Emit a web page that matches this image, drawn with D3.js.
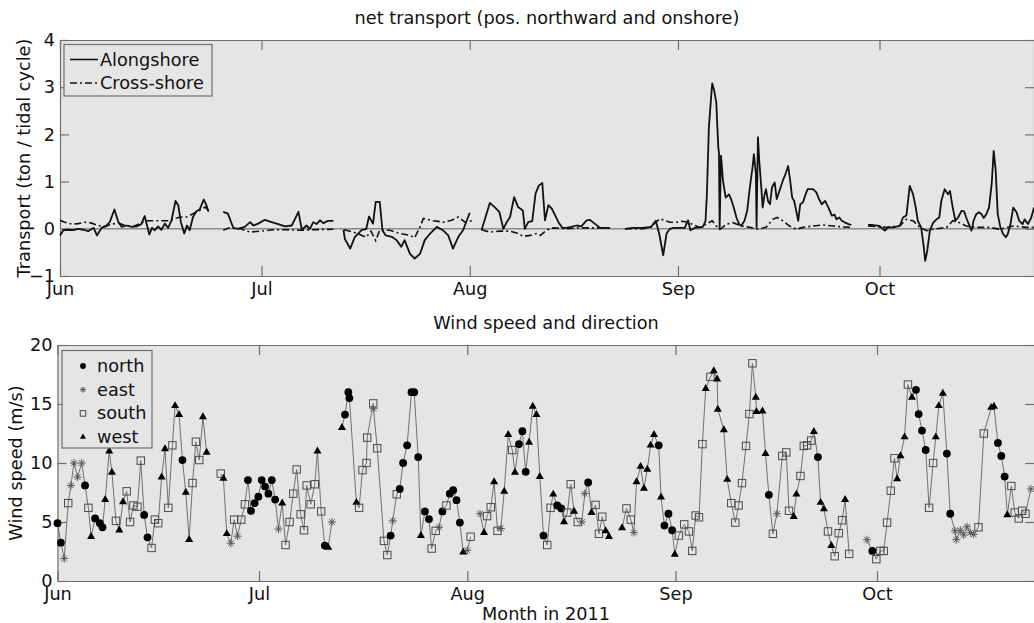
<!DOCTYPE html>
<html><head><meta charset="utf-8">
<script src="https://cdn.jsdelivr.net/npm/d3@7"></script>
<style>body{margin:0;background:#fff}svg{display:block}</style>
</head><body>
<script>
// ---------- DATA (days since 1 Jun 2011; null = gap) ----------
const monthTicks = ["Jun","Jul","Aug","Sep","Oct"];
const transportTicks = [-1,0,1,2,3,4];
const windTicks = [0,5,10,15,20];

const alongDays = [0,0.5,1.2,2,2.7,3.5,4.2,5,5.5,6.2,6.9,7.4,8.1,8.7,9.2,9.9,10.7,11.4,12.1,12.6,13.3,13.7,14.1,14.6,15.1,15.6,16.1,16.6,17.2,17.6,18,18.5,18.9,19.3,19.8,20.3,20.8,21.4,21.8,22.1,
 23,
 24.3,25,25.8,26.5,27.5,28.3,28.8,29.5,30.5,31.5,32.5,33.5,34.5,35.5,36,36.7,37.2,37.7,38.2,38.7,39.2,39.9,40.7,
 41.5,
 42.2,42.4,43.2,43.9,44.9,45.6,46,46.6,47,47.6,48,48.5,49.4,50.1,50.8,51.3,52.1,52.8,53.6,54.3,55.1,56.1,57,57.8,58.5,59.3,60,61,
 62,
 62.75,64,64.7,65.4,66,66.5,67,67.6,68.2,68.9,69.2,69.7,70.3,70.8,71.3,71.8,72.2,72.7,73.2,73.7,74.2,74.8,75.4,76.1,76.9,77.6,78.4,78.9,79.6,80.4,81.4,81.9,
 83,
 84.1,85.3,86.8,88,88.7,89.2,89.8,90.3,90.8,91.3,92.3,93,93.5,93.85,94.5,95.2,95.7,96.1,96.3,96.6,97,97.1,97.4,97.7,98,98.1,98.2,98.4,98.7,99.1,99.6,99.9,100.3,100.7,101.1,101.4,101.9,102.3,102.7,103.1,103.3,103.6,103.7,103.9,104.1,104.4,104.6,104.9,105.1,105.4,105.7,106,106.4,106.7,107.1,107.6,108,108.4,108.7,109,109.3,109.6,109.9,110.2,110.6,111,111.3,112.1,112.6,113,113.4,113.9,114.4,114.9,115.3,115.6,116,116.4,116.9,117.4,117.8,
 119,
 120.3,121,122,122.8,123.3,124,125,125.5,126,126.5,127,127.4,127.7,128.2,128.6,128.8,129.1,129.5,130,130.5,130.9,131.2,131.7,132.2,132.5,132.9,133.3,133.7,134.2,134.6,134.9,135.3,135.7,136,136.4,136.8,137.2,137.5,137.9,138.3,138.7,139,139.3,139.6,140,140.4,140.8,141.1,141.5,141.9,142.4,142.8,143.3,143.6,144.1,144.6,145];
const alongVals = [-0.14,-0.03,-0.02,-0.03,0,-0.02,-0.05,0.02,-0.14,0.02,0.07,0.14,0.41,0.14,0.04,0.07,0.04,0.05,0.1,0.27,-0.12,0.02,-0.03,0.05,-0.02,0.11,0.02,0.18,0.59,0.5,0.14,-0.1,0.07,-0.03,0.25,0.37,0.41,0.62,0.5,0.36,
 null,
 0.36,0.32,0.02,0,0.04,0.14,0.07,0.11,0.19,0.14,0.1,0.05,0.07,0.36,-0.02,0.07,0,0.14,0.1,0.18,0.12,0.17,0.17,
 null,
 -0.02,-0.21,-0.42,-0.17,-0.03,0,0.26,0.11,0.57,0.57,-0.03,-0.14,-0.17,-0.24,-0.38,-0.24,-0.53,-0.63,-0.53,-0.24,-0.1,0.04,-0.03,-0.14,-0.42,-0.17,-0.03,0.34,
 null,
 -0.03,0.55,0.46,0.36,0,0.14,0.25,0.67,0.46,0.39,0,0.14,0.16,0.75,0.92,0.97,0.18,0.5,0.43,0.29,0.14,0.02,0.02,0.04,0.07,0.05,0.18,0.19,0.11,0.02,0.02,0.02,
 null,
 0,0.02,0.02,0.04,0.17,-0.1,-0.56,-0.1,0,0.02,0.02,0.02,0.18,-0.03,0.02,0.03,0.04,0.17,0.73,2.15,2.92,3.08,2.92,2.68,1.72,1.62,-0.01,1.55,1.02,0.66,0.73,0.63,0.45,0.24,0.1,0.06,0.17,0.38,0.88,1.3,1.58,1.16,0.03,1.94,1.44,0.88,0.45,0.73,0.84,0.59,0.52,0.88,0.98,0.63,0.8,1.02,1.16,1.33,1.02,0.66,0.59,0.38,0.17,0.52,0.56,0.73,0.84,0.84,0.77,0.63,0.52,0.59,0.45,0.28,0.3,0.2,0.24,0.17,0.13,0.1,0.08,
 null,
 0.08,0.08,0.06,-0.04,0.03,0.03,0.06,0.24,0.28,0.91,0.73,0.45,0.17,0.03,-0.4,-0.68,-0.47,-0.04,0.13,0.2,0.24,0.59,0.84,0.73,0.8,0.45,0.17,0.24,0.38,0.37,0.24,0.1,-0.04,0.17,0.31,0.35,0.31,0.23,0.31,0.45,0.95,1.65,1.23,0.31,0.03,-0.11,-0.18,-0.11,0.1,0.45,0.35,0.17,0.1,0.2,0.1,0.24,0.45];

const crossDays = [0,0.7,1.7,2.7,3.7,4.7,5.7,6.7,7.6,8.7,9.7,10.9,11.9,12.9,14.1,15.4,16.4,17.1,17.9,18.9,19.8,20.8,21.6,22.1,
 23,
 24.3,25.2,26.9,28.3,29.8,31.8,33.7,35.8,37.7,40.7,
 41.5,
 42.3,43.2,44.3,45.6,46.3,47,47.6,48.1,49.1,50.6,52.1,52.8,53.6,54.1,55.6,57.1,58.3,59.3,60.3,61.3,
 62,
 62.75,64,65.5,67,68,69,70,71,71.5,72.5,73.5,75.4,77.4,79.9,81.9,
 83,
 84.1,86.8,88,88.7,89.3,90,90.8,91.8,92.5,93.5,94.5,95.2,96.2,97.1,97.7,98.3,99.2,100.2,101.4,102.7,103.8,105.1,106.1,106.8,107.6,108.6,109.6,110.6,112.1,113.6,115.1,116.6,117.8,
 119,
 120.3,123,125,126,127,128,129,130,132,132.9,133.9,134.9,136.4,138.4,139.9,141.9,143.9,145];
const crossVals = [0.18,0.14,0.1,0.11,0.14,0.12,0.07,0.04,0.1,0.12,0.07,0.05,0.11,0.17,0.17,0.17,0.17,0.22,0.25,0.25,0.32,0.39,0.46,0.39,
 null,
 -0.03,0.02,0,-0.07,-0.05,-0.02,-0.02,-0.03,-0.02,-0.01,
 null,
 -0.02,-0.05,-0.1,-0.18,-0.05,-0.25,-0.03,-0.03,-0.03,-0.1,-0.14,-0.19,0.04,0.22,0.17,0.14,0.18,0.25,0.14,0.17,
 null,
 -0.02,-0.07,-0.05,-0.05,-0.09,-0.16,-0.14,-0.1,-0.14,-0.02,0.02,0,0.02,0.02,0.02,
 null,
 0,0,0.04,0.14,0.21,0.18,0.14,0.14,0.16,0.14,0.07,0.03,0.1,0.17,0.06,-0.01,0.1,0.13,0.06,0.03,-0.01,0.03,0.2,0.24,0.17,0.06,-0.01,0.03,0.06,0.08,0.06,0.04,0.03,
 null,
 0.06,0.03,0.06,0.2,0.17,0.03,-0.04,-0.01,0.03,0.17,0.13,0.06,0.03,0.03,-0.01,0.06,0.03,0.03];

const windDays = [0,0.5,1,1.6,2,2.45,3,3.6,4.1,4.6,5,5.6,6.3,6.7,7.1,7.7,8.1,8.7,9.2,9.75,10.3,10.8,11.3,11.9,12.4,12.9,13.4,14,14.5,15,15.5,16,16.5,17.1,17.5,18.1,18.6,19.1,19.6,20.1,20.6,21.1,21.65,22.2,
 23.2,
 24.3,24.7,25.2,25.8,26.3,26.8,27.35,27.9,28.35,28.8,29.35,29.9,30.4,30.9,31.4,31.9,32.4,32.9,33.45,33.95,34.55,35.1,35.6,36.2,36.7,37.1,37.7,38.3,38.7,39.25,39.8,40.3,40.85,
 41.6,
 42.35,42.8,43.3,43.45,44.5,44.9,45.4,46,46.1,47,47.05,47.6,48.6,49.1,49.6,49.9,50.5,50.95,51.45,52.05,52.7,53.1,53.7,54.1,54.7,55.3,55.7,56.3,56.8,57.3,57.9,58.4,58.9,59.4,59.9,60.4,61,61.5,
 62.2,
 62.9,63.5,63.95,64.5,65,65.5,66,66.5,67.1,67.7,68.1,68.7,69.2,69.7,70.2,70.75,71.3,71.8,72.35,72.9,73.4,73.8,74.4,75,75.4,75.9,76.4,76.9,77.45,78.05,78.5,79,79.5,80.1,80.6,81.1,81.6,82.1,
 83,
 84.05,84.7,85.35,85.8,86.2,86.8,87.3,87.8,88.3,88.8,89.5,89.85,90.35,90.95,91.5,91.9,92.5,93.3,94,94.5,95,95.5,96,96.5,97.2,97.7,98.2,98.3,99.2,99.7,100.3,100.9,101.4,101.9,102.5,103,103.45,103.95,104.05,104.95,105.4,105.9,106.5,107.1,107.9,108.5,108.9,109.6,110,110.6,111.1,111.6,112.2,112.6,113.2,113.6,114.1,114.7,115.2,115.7,116.3,116.8,117.25,117.85,
 119,
 120.5,121.3,121.9,122.5,123,123.5,124.05,124.6,125,125.5,126.1,126.6,127.2,127.8,128.2,128.7,129.25,129.75,130.35,130.75,131.2,131.8,132.4,132.9,133.6,133.8,134.4,134.9,135.4,135.9,136.4,137.1,137.9,139,139.4,140,140.5,141,141.4,142,142.5,143.1,143.6,144.1,144.9];
const windSpeed = [4.9,3.25,1.9,6.6,8.1,10,8.8,10,8.1,6.2,3.75,5.3,4.9,4.55,6.9,11,9.2,5.1,4.3,6.7,7.6,5,6.4,6.3,10.2,5.6,3.7,2.8,5.2,4.9,8.8,11.2,6.2,11.5,14.85,14.1,10.25,7.5,3.5,8.3,11.8,10.25,13.9,10.9,
 null,
 9.1,8.7,4,3.2,5.2,3.8,5.2,6.5,8.55,5.95,6.6,7.15,8.55,8,7.4,8.55,6.9,4.4,6.6,3.05,5,7.4,9.45,5.65,4.3,8.1,6.5,8.2,11,5.9,3,2.85,5,
 null,
 13,14.1,16,15.5,6.65,6.2,9.4,10,12.15,15.05,14.6,11.25,3.4,2.2,3.85,5.1,7.35,7.8,10,11.5,16,16,10.5,3.85,5.9,5.25,2.75,4.25,4.55,5.9,6.4,7.4,7.7,6.85,4.95,2.45,2.6,3.75,
 null,
 5.7,4.1,5.5,6.25,8.4,4.25,4.45,7.6,12.4,11.1,9.2,11.6,12.7,9.25,11.75,14.8,14.1,8.85,3.85,3.05,6.2,7.35,6.4,6.15,5,5.8,8.2,5.9,5,5,7.4,8.35,5.8,6.45,4,5.45,4.25,3.75,
 null,
 4.5,6.15,5.2,4.1,8.4,9.7,7.85,9.45,11.5,12.4,11.5,7.1,4.7,5.7,4.3,2.25,3.85,4.8,4.2,2.55,5.55,5.4,11.6,16.3,17.3,17.8,17.1,14.55,12.8,8.6,6.6,4.95,6.4,8.3,11.45,14.15,18.45,15.55,14.35,14.4,10.8,7.3,4,5.7,10.6,10.9,5.95,5.45,7.35,8.9,11.45,11.5,11.9,12.65,10.5,6.65,6.1,4.2,3,2.1,4.05,5.15,6.9,2.3,
 null,
 3.5,2.55,1.85,2.55,2.55,4.95,7.65,10.4,8.65,10.6,12.2,16.65,15.55,16.2,14.15,12.75,11.1,6.2,10,12.2,14.85,15.9,10.8,5.7,4.25,3.5,4.3,3.9,4.6,4.1,3.95,4.55,12.5,14.7,14.8,11.7,10.6,8.85,5.6,8.05,5.8,5.3,5.95,5.7,7.8];
const windDir = ["N","N","E","S","E","E","E","E","N","S","W","N","N","N","W","W","W","S","W","W","S","S","S","S","S","N","N","S","S","S","W","W","S","S","W","W","N","W","W","S","S","S","W","W",
 null,
 "S","W","W","E","S","E","S","S","N","N","N","N","N","N","N","N","N","E","W","S","S","S","S","S","S","S","S","S","W","S","N","W","E",
 null,
 "W","N","N","N","W","S","S","S","S","S","E","S","S","S","N","E","S","N","N","N","N","N","N","W","N","N","S","S","E","N","S","N","N","N","N","W","E","S",
 null,
 "E","W","S","S","W","S","E","W","W","S","W","N","N","N","W","W","W","W","N","S","S","W","N","N","W","S","S","W","S","E","E","N","W","S","S","S","W","W",
 null,
 "W","S","S","E","W","W","W","W","W","W","N","W","N","N","N","W","S","S","S","S","S","S","S","W","S","W","W","W","W","W","S","S","S","S","S","S","S","W","W","W","W","N","S","E","S","S","S","W","W","S","S","S","S","W","N","W","W","S","W","S","S","S","W","S",
 null,
 "E","N","S","S","S","S","S","S","W","W","W","S","W","N","N","N","N","S","S","W","W","W","N","N","E","E","E","E","E","E","E","S","S","W","W","N","N","N","W","S","S","S","S","S","E"];

const legendTop = ["Alongshore","Cross-shore"];
const legendWind = [["north","N"],["east","E"],["south","S"],["west","W"]];

// ---------- SETUP ----------
const W = 1034, H = 623;
const FONT = "DejaVu Sans", FS = 17.7;
const START = new Date(2011, 5, 1);
const toDate = d => new Date(START.getTime() + d * 864e5);
const AX = "#6f6f6f", BG = "#e5e5e5";

const svg = d3.select("body").append("svg").attr("width", W).attr("height", H)
  .attr("font-family", FONT).attr("font-size", FS);

function panel(x, y, yTicks) {
  const g = svg.append("g");
  const [x0, x1] = x.range(), [yb, yt] = y.range();
  g.append("rect").attr("x", x0).attr("y", yt).attr("width", x1 - x0).attr("height", yb - yt).attr("fill", BG);
  const months = d3.timeMonth.range(x.domain()[0], x.domain()[1]);
  const fmt = d => monthTicks[d.getMonth() - 5];
  const style = s => { s.attr("font-family", FONT).attr("font-size", FS).attr("color", "#111");
    s.selectAll(".domain,.tick line").attr("stroke", AX).attr("stroke-width", 1.2); };
  g.append("g").attr("transform", `translate(0,${yb})`)
    .call(d3.axisBottom(x).tickValues(months).tickFormat(fmt).tickSizeInner(-10).tickSizeOuter(0).tickPadding(6)).call(style);
  g.append("g").attr("transform", `translate(0,${yt})`)
    .call(d3.axisTop(x).tickValues(months).tickFormat("").tickSizeInner(-10).tickSizeOuter(0)).call(style);
  g.append("g").attr("transform", `translate(${x0},0)`)
    .call(d3.axisLeft(y).tickValues(yTicks).tickFormat(d3.format("d")).tickSizeInner(-9).tickSizeOuter(0).tickPadding(5)).call(style);
  g.append("g").attr("transform", `translate(${x1},0)`)
    .call(d3.axisRight(y).tickValues(yTicks).tickFormat("").tickSizeInner(-9).tickSizeOuter(0)).call(style);
  return g;
}

// ---------- TOP PANEL ----------
const xT = d3.scaleTime().domain([toDate(0), toDate(145)]).range([60, 1034]);
const yT = d3.scaleLinear().domain([-1, 4]).range([276, 40]);
const gT = panel(xT, yT, transportTicks);

gT.append("line").attr("x1", xT.range()[0]).attr("x2", xT.range()[1])
  .attr("y1", yT(0)).attr("y2", yT(0)).attr("stroke", "#8a8a8a").attr("stroke-width", 1.6);

const mk = (days, vals) => days.map((d, i) => ({ d: toDate(d), v: vals[i] }));
const lineT = d3.line().defined(p => p.v != null).x(p => xT(p.d)).y(p => yT(p.v));
gT.append("path").datum(mk(crossDays, crossVals)).attr("d", lineT).attr("fill", "none")
  .attr("stroke", "#111").attr("stroke-width", 1.6).attr("stroke-dasharray", "7,3,2,3");
gT.append("path").datum(mk(alongDays, alongVals)).attr("d", lineT).attr("fill", "none")
  .attr("stroke", "#111").attr("stroke-width", 1.8).attr("stroke-linejoin", "round");

// legend top
const lgT = gT.append("g");
lgT.append("rect").attr("x", 64).attr("y", 44.5).attr("width", 148).attr("height", 51.5)
  .attr("fill", BG).attr("stroke", AX).attr("stroke-width", 1.2);
legendTop.forEach((name, i) => {
  const yy = 59.5 + i * 23.5;
  lgT.append("line").attr("x1", 70).attr("x2", 98).attr("y1", yy).attr("y2", yy)
    .attr("stroke", "#111").attr("stroke-width", i ? 1.4 : 1.6).attr("stroke-dasharray", i ? "7,3,2,3" : null);
  lgT.append("text").attr("x", 100).attr("y", yy + 6).text(name).attr("fill", "#111");
});

svg.append("text").attr("x", 547).attr("y", 24).attr("text-anchor", "middle").attr("fill", "#111")
  .text("net transport (pos. northward and onshore)");
svg.append("text").attr("transform", `translate(29.5,${(yT.range()[0] + yT.range()[1]) / 2}) rotate(-90)`)
  .attr("text-anchor", "middle").attr("fill", "#111").text("Transport (ton / tidal cycle)");

// ---------- BOTTOM PANEL ----------
const xB = d3.scaleTime().domain([toDate(0), toDate(145.4)]).range([57.5, 1034.2]);
const yB = d3.scaleLinear().domain([0, 20]).range([581, 345]);
const gB = panel(xB, yB, windTicks);

const windPts = windDays.map((d, i) => ({ d: toDate(d), v: windSpeed[i], k: windDir[i] }));
const lineB = d3.line().defined(p => p.v != null).x(p => xB(p.d)).y(p => yB(p.v));
gB.append("path").datum(windPts).attr("d", lineB).attr("fill", "none").attr("stroke", "#707070").attr("stroke-width", 1);

function marker(sel, k, s) {
  if (k === "N") sel.append("circle").attr("r", 3.9 * s).attr("fill", "#000");
  else if (k === "W") sel.append("path").attr("d", d3.symbol(d3.symbolTriangle, 28 * s * s)()).attr("fill", "#000");
  else if (k === "S") sel.append("rect").attr("x", -3.7 * s).attr("y", -3.7 * s).attr("width", 7.4 * s).attr("height", 7.4 * s)
    .attr("fill", "none").attr("stroke", "#4a4a4a").attr("stroke-width", 1);
  else if (k === "E") {
    const r = 4 * s, q = r * 0.7071;
    sel.append("path").attr("d", `M${-r},0H${r}M0,${-r}V${r}M${-q},${-q}L${q},${q}M${-q},${q}L${q},${-q}`)
      .attr("stroke", "#555").attr("stroke-width", 1).attr("fill", "none");
  }
}
gB.append("g").selectAll("g").data(windPts.filter(p => p.v != null)).join("g")
  .attr("transform", p => `translate(${xB(p.d)},${yB(p.v)})`)
  .each(function (p) { marker(d3.select(this), p.k, 1); });

// legend bottom
const lgB = gB.append("g");
lgB.append("rect").attr("x", 62).attr("y", 350.5).attr("width", 90).attr("height", 97.5)
  .attr("fill", BG).attr("stroke", AX).attr("stroke-width", 1.2);
legendWind.forEach(([name, k], i) => {
  const yy = 372 + i * 23.7;
  marker(lgB.append("g").attr("transform", `translate(83,${yy - 6})`), k, 0.75);
  lgB.append("text").attr("x", 97).attr("y", yy).text(name).attr("fill", "#111");
});

svg.append("text").attr("x", 546).attr("y", 329).attr("text-anchor", "middle").attr("fill", "#111")
  .text("Wind speed and direction");
svg.append("text").attr("x", 546).attr("y", 620).attr("text-anchor", "middle").attr("fill", "#111")
  .text("Month in 2011");
svg.append("text").attr("transform", `translate(21.5,${(yB.range()[0] + yB.range()[1]) / 2}) rotate(-90)`)
  .attr("text-anchor", "middle").attr("fill", "#111").text("Wind speed (m/s)");
</script>
</body></html>
